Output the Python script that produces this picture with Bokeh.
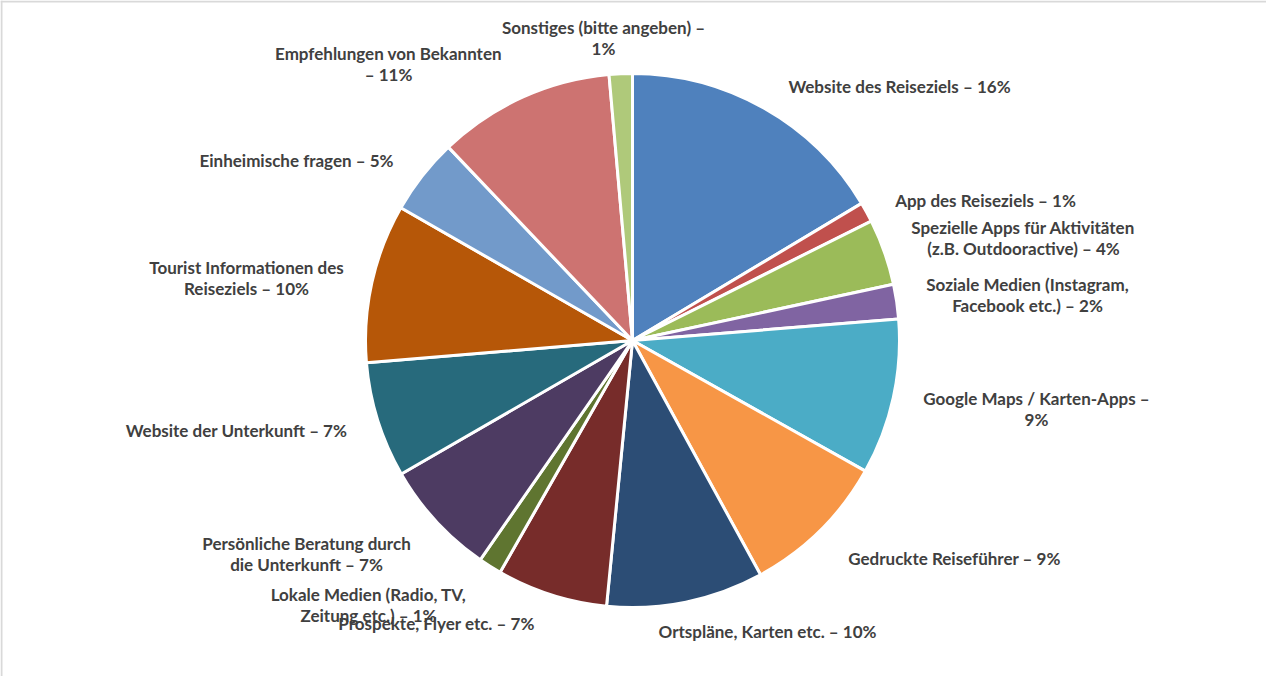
import math
from bokeh.plotting import figure
from bokeh.models import ColumnDataSource, Range1d, Span
from bokeh.core.properties import value
from bokeh.embed import file_html
from bokeh.resources import INLINE

# ---- data ----
categories = [
    "Website des Reiseziels",
    "App des Reiseziels",
    "Spezielle Apps für Aktivitäten\n(z.B. Outdooractive)",
    "Soziale Medien (Instagram,\nFacebook etc.)",
    "Google Maps / Karten-Apps",
    "Gedruckte Reiseführer",
    "Ortspläne, Karten etc.",
    "Prospekte, Flyer etc.",
    "Lokale Medien (Radio, TV,\nZeitung etc.)",
    "Persönliche Beratung durch\ndie Unterkunft",
    "Website der Unterkunft",
    "Tourist Informationen des\nReiseziels",
    "Einheimische fragen",
    "Empfehlungen von Bekannten",
    "Sonstiges (bitte angeben)",
]
shares = [16.4, 1.2, 4.0, 2.1, 9.4, 8.9, 9.5, 6.7, 1.4, 7.0, 7.0, 9.6, 4.6, 10.7, 1.4]
percent_labels = ["16%", "1%", "4%", "2%", "9%", "9%", "10%", "7%", "1%", "7%", "7%", "10%", "5%", "11%", "1%"]
# how the label text wraps (" – " joins name and percent, "\n" breaks lines)
label_joins = [" – ", " – ", " – ", " – ", " –\n", " – ", " – ", " – ", " – ", " – ", " – ", " – ", " – ", "\n– ", " –\n"]

colors = ["#4F81BD", "#C0504D", "#9BBB59", "#8064A2", "#4BACC6", "#F79646", "#2C4D75",
          "#772C2A", "#5F7530", "#4D3B62", "#276A7C", "#B65708", "#729ACA", "#CD7371", "#AFC97A"]

# ---- layout (pixel-like data units) ----
W, H = 1266, 676
cx, cy, R = 632, 336, 267
label_x = [899, 985, 1023, 1027, 1036, 954, 767, 436, 368, 306, 236, 246, 296, 388, 603]
label_y = [590, 476, 439, 382, 268, 118, 45, 53, 72, 123, 246, 399, 516, 613, 639]

total = sum(shares)
start, end = [], []
acc = 0.0
for s in shares:
    a0 = acc / total * 2 * math.pi
    acc += s
    a1 = acc / total * 2 * math.pi
    # clockwise from 12 o'clock
    start.append(math.pi / 2 - a1)
    end.append(math.pi / 2 - a0)

texts = [c + j + p for c, j, p in zip(categories, label_joins, percent_labels)]

src = ColumnDataSource(dict(start=start, end=end, color=colors, cat=categories))
lab = ColumnDataSource(dict(x=label_x, y=label_y, text=texts))

p = figure(width=W, height=H, output_backend="svg", toolbar_location=None,
           x_range=Range1d(0, W), y_range=Range1d(0, H),
           min_border=0, min_border_left=0, min_border_right=0,
           min_border_top=0, min_border_bottom=0)
p.axis.visible = False
p.grid.visible = False
p.outline_line_color = None
p.background_fill_color = "white"
p.border_fill_color = "white"

p.wedge(x=cx, y=cy, radius=R, start_angle="start", end_angle="end",
        fill_color="color", line_color="white", line_width=3, source=src)

p.text(x="x", y="y", text="text", source=lab, text_align="center", text_baseline="middle",
       text_font=value("Lato"), text_font_style="bold", text_font_size="17px",
       text_color="#404040", text_line_height=1.0)

# chart-area frame (only top and left edges are visible in the window)
p.add_layout(Span(location=H - 1, dimension="width", line_color="#D9D9D9", line_width=2))
p.add_layout(Span(location=1, dimension="height", line_color="#D9D9D9", line_width=2))

open("out.html", "w").write(file_html(p, INLINE))
